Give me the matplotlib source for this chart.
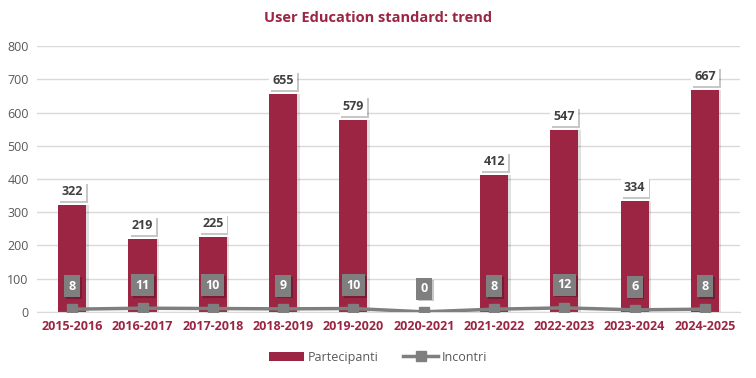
import matplotlib
matplotlib.use("Agg")
import matplotlib.pyplot as plt
import matplotlib.patheffects as pe

categories = ["2015-2016", "2016-2017", "2017-2018", "2018-2019", "2019-2020",
              "2020-2021", "2021-2022", "2022-2023", "2023-2024", "2024-2025"]
partecipanti = [322, 219, 225, 655, 579, 0, 412, 547, 334, 667]
incontri = [8, 11, 10, 9, 10, 0, 8, 12, 6, 8]

bar_color = "#9B2542"
line_color = "#7F7F7F"

plt.rcParams['font.family'] = ['Open Sans', 'DejaVu Sans']

fig = plt.figure(figsize=(7.56, 3.78), dpi=100)
ax = fig.add_axes([0.049, 0.175, 0.930, 0.703])

x = list(range(len(categories)))
# bar shadows
for xi, v in zip(x, partecipanti):
    if v > 0:
        ax.bar(xi + 0.035, v, width=0.4, color="#000000", alpha=0.12, zorder=1.5)
ax.bar(x, partecipanti, width=0.4, color=bar_color, zorder=2, label="Partecipanti")
ax.plot(x, incontri, color=line_color, linewidth=2.5, marker="s", markersize=7,
        zorder=3, label="Incontri")

ax.set_xlim(-0.5, len(categories) - 0.5)
ax.set_ylim(0, 800)
ax.set_yticks(range(0, 801, 100))
ax.grid(axis="y", color="#D9D9D9", linewidth=1, zorder=0)
ax.set_axisbelow(True)
for s in ["top", "right", "left"]:
    ax.spines[s].set_visible(False)
ax.spines["bottom"].set_color("#D9D9D9")
ax.tick_params(axis="both", length=0)
ax.tick_params(axis="y", labelsize=9, labelcolor="#595959", pad=6)
ax.set_xticks(x)
ax.set_xticklabels(categories, fontsize=9, color=bar_color, fontweight="bold")
ax.tick_params(axis="x", pad=6)

shadow = [pe.withSimplePatchShadow(offset=(1.3, -1.3), shadow_rgbFace="black", alpha=0.22)]


def label(xi, v, text, dy, fc, tc, pad, z):
    ax.annotate(text, (xi, v), xytext=(0, dy), textcoords="offset points",
                ha="center", va="bottom", fontsize=9, fontweight="bold",
                color=tc, zorder=z,
                bbox=dict(boxstyle=f"square,pad={pad}", fc=fc, ec="none",
                          path_effects=shadow))


for xi, v in zip(x, partecipanti):
    if v > 0:
        label(xi, v, str(v), 5, "white", "#404040", 0.25, 5)

for xi, v in zip(x, incontri):
    label(xi, v, str(v), 12, line_color, "white", 0.35, 7)

fig.text(0.5, 0.952, "User Education standard: trend", ha="center", va="center",
         fontsize=10.5, fontweight="bold", color=bar_color)

handles, labels = ax.get_legend_handles_labels()
order = [labels.index("Partecipanti"), labels.index("Incontri")]
leg = fig.legend([handles[i] for i in order], [labels[i] for i in order],
                 loc="center", bbox_to_anchor=(0.5, 0.055), ncol=2, frameon=False,
                 fontsize=9, handlelength=2.8, columnspacing=2.0, handletextpad=0.3)
for t in leg.get_texts():
    t.set_color("#595959")

fig.savefig("out.png", dpi=100)
